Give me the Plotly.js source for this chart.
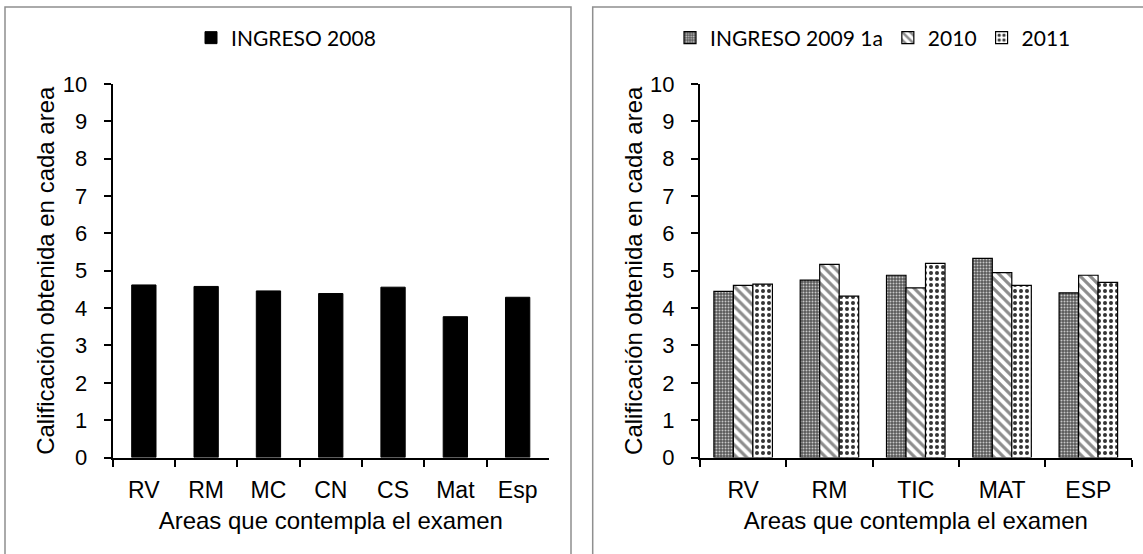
<!DOCTYPE html>
<html>
<head>
<meta charset="utf-8">
<script src="https://cdn.plot.ly/plotly-3.0.1.min.js"></script>
<style>html,body{margin:0;padding:0;background:#fff;}#chart{width:1143px;height:554px;}</style>
</head>
<body>
<div id="chart"></div>
<script>
// Data
const areas2008 = ["RV", "RM", "MC", "CN", "CS", "Mat", "Esp"];
const ingreso2008 = [4.62, 4.58, 4.46, 4.39, 4.56, 3.77, 4.29];

const areasB = ["RV", "RM", "TIC", "MAT", "ESP"];
const ingreso2009 = [4.45, 4.75, 4.88, 5.33, 4.41];
const ingreso2010 = [4.61, 5.17, 4.54, 4.95, 4.88];
const ingreso2011 = [4.64, 4.32, 5.20, 4.61, 4.69];

const seriesNames = ["INGRESO 2008", "INGRESO 2009 1a", "2010", "2011"];
const yTitle = "Calificación obtenida en cada area";
const xTitle = "Areas que contempla el examen";

const W = 1143, H = 554;
const px = v => v / W;
const py = v => (H - v) / H;

const AR = "Liberation Sans, Arial, sans-serif";
const LEG = "Lato, Carlito, Calibri, sans-serif";

const traces = [
  {type: "bar", name: seriesNames[0], x: areas2008, y: ingreso2008, xaxis: "x", yaxis: "y",
   width: 0.39, offset: -0.195, legend: "legend",
   marker: {color: "#000000", line: {color: "#000000", width: 1}}},
  {type: "bar", name: seriesNames[1], x: areasB, y: ingreso2009, xaxis: "x2", yaxis: "y2",
   width: 0.226, offset: -0.339, legend: "legend2",
   marker: {color: "#6e6e6e", line: {color: "#000000", width: 1.2},
     pattern: {shape: ".", fgcolor: "#c8c8c8", bgcolor: "#585858", size: 3, solidity: 0.35}}},
  {type: "bar", name: seriesNames[2], x: areasB, y: ingreso2010, xaxis: "x2", yaxis: "y2",
   width: 0.226, offset: -0.113, legend: "legend2",
   marker: {color: "#ffffff", line: {color: "#000000", width: 1.2},
     pattern: {shape: "\\", fgcolor: "#8c8c8c", bgcolor: "#ffffff", size: 7, solidity: 0.45}}},
  {type: "bar", name: seriesNames[3], x: areasB, y: ingreso2011, xaxis: "x2", yaxis: "y2",
   width: 0.226, offset: 0.113, legend: "legend2",
   marker: {color: "#ffffff", line: {color: "#000000", width: 1.2},
     pattern: {shape: ".", fgcolor: "#333333", bgcolor: "#ffffff", size: 6, solidity: 0.35}}}
];

const xaxisBase = {
  type: "category", showline: true, linecolor: "#000", linewidth: 2,
  ticks: "outside", tickson: "boundaries", ticklen: 7, tickwidth: 2, tickcolor: "#000",
  ticklabelstandoff: 11,
  tickfont: {family: AR, size: 23, color: "#000"},
  showgrid: false, zeroline: false, fixedrange: true,
  title: {text: xTitle, font: {family: AR, size: 24, color: "#000"}, standoff: 10}
};
const yaxisBase = {
  range: [0, 10], dtick: 1, tick0: 0, showline: true, linecolor: "#000", linewidth: 2,
  ticks: "outside", ticklen: 7, tickwidth: 2, tickcolor: "#000",
  ticklabelstandoff: 12,
  tickfont: {family: AR, size: 22, color: "#000"},
  showgrid: false, zeroline: false, fixedrange: true,
  title: {text: yTitle, font: {family: AR, size: 24, color: "#000"}, standoff: 1}
};

const yDom = [py(457.5), py(84)];

const layout = {
  width: W, height: H,
  margin: {l: 0, r: 0, t: 0, b: 0},
  paper_bgcolor: "#fff", plot_bgcolor: "#fff",
  showlegend: true,
  xaxis: Object.assign({}, xaxisBase, {domain: [px(112.7), px(548.8)], anchor: "y"}),
  yaxis: Object.assign({}, yaxisBase, {domain: yDom, anchor: "x"}),
  xaxis2: Object.assign({}, xaxisBase, {domain: [px(700), px(1131.5)], anchor: "y2"}),
  yaxis2: Object.assign({}, yaxisBase, {domain: yDom, anchor: "x2"}),
  legend: {orientation: "h", x: px(191), xanchor: "left", y: py(38), yanchor: "middle",
    font: {family: LEG, size: 21, color: "#000"}, bgcolor: "rgba(0,0,0,0)", borderwidth: 0,
    itemclick: false, itemdoubleclick: false},
  legend2: {orientation: "h", x: px(670), xanchor: "left", y: py(38), yanchor: "middle",
    font: {family: LEG, size: 21, color: "#000"}, bgcolor: "rgba(0,0,0,0)", borderwidth: 0,
    itemclick: false, itemdoubleclick: false},
  shapes: [
    {type: "rect", xref: "paper", yref: "paper", x0: px(5), x1: px(571), y0: -0.05, y1: py(7),
     line: {color: "#8f8f8f", width: 1.5}, fillcolor: "rgba(0,0,0,0)", layer: "below"},
    {type: "rect", xref: "paper", yref: "paper", x0: px(592.7), x1: 1.05, y0: -0.05, y1: py(7),
     line: {color: "#8f8f8f", width: 1.5}, fillcolor: "rgba(0,0,0,0)", layer: "below"}
  ]
};

Plotly.newPlot("chart", traces, layout, {displayModeBar: false, staticPlot: true});
</script>
</body>
</html>
